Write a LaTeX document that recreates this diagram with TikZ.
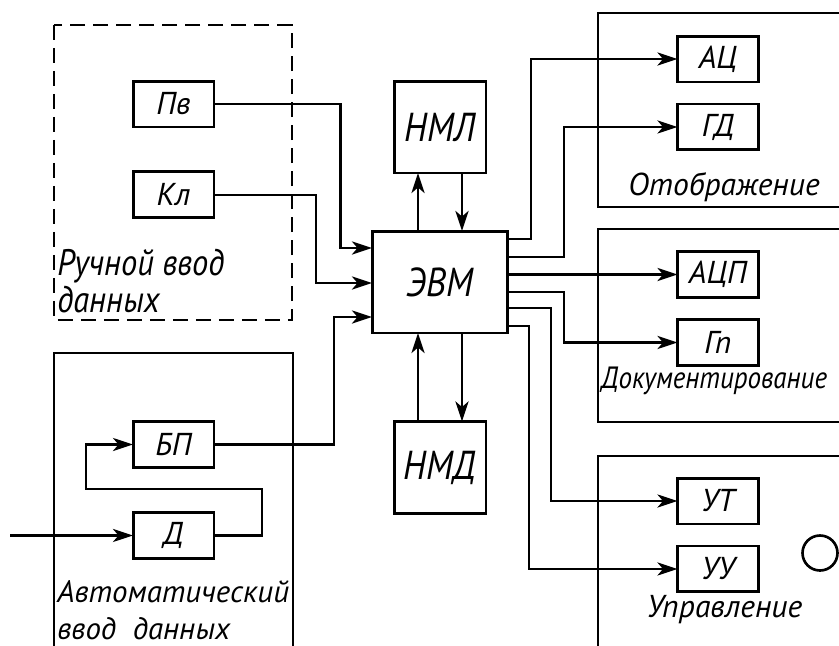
\documentclass[tikz,border=0pt]{standalone}
\usepackage{fontspec}
\setmainfont{PT Sans}
\newfontfamily\labelfont{PT Sans}
\newfontfamily\narrowfont{PT Sans}[FakeStretch=0.88]
\usetikzlibrary{arrows.meta, positioning, calc}

\begin{document}
\begin{tikzpicture}[
		x=0.02cm, y=-0.02cm,
		every node/.style={font=\labelfont\itshape\fontsize{18}{21}\selectfont},
		unit/.style={draw, line width=1.7pt, minimum width=1.62cm, minimum height=0.92cm, inner sep=0pt, outer sep=0pt},
		bigunit/.style={unit, minimum width=1.84cm, minimum height=1.84cm, font=\narrowfont\itshape\fontsize{23}{26}\selectfont},
		group/.style={line width=1.5pt},
		caption/.style={inner sep=0pt, align=left},
		arrowstyle/.style={-{Stealth[length=4mm, width=2.6mm, inset=1.1mm]}, line width=1.6pt}
	]
	\useasboundingbox (0,0) rectangle (839,646);
	\clip (0,0) rectangle (839,646);

	% groups
	\draw[group, dash pattern=on 0.3cm off 0.16cm] (54,25) rectangle (292,320);
	\draw[group] (54,353) rectangle (293,670);
	\draw[group] (598,13) rectangle (860,207);
	\draw[group] (598,229) rectangle (860,422);
	\draw[group] (598,456) rectangle (860,670);

	% input units
	\node[unit] (pv) at (173.5,104) {Пв};
	\node[unit, below=0.9cm of pv] (kl) {Кл};
	\node[unit] (bp) at (173.5,444.5) {БП};
	\node[unit, below=0.9cm of bp] (d) {Д};

	% computer and memory
	\node[bigunit, minimum width=2.72cm, minimum height=2.04cm] (evm) at (440,282) {ЭВМ};
	\node[bigunit] (nml) at (440,127) {НМЛ};
	\node[bigunit] (nmd) at (440,467.5) {НМД};

	% output units
	\node[unit] (ac) at (718,59) {АЦ};
	\node[unit, below=0.44cm of ac] (gd) {ГД};
	\node[unit] (acp) at (718,274.5) {АЦП};
	\node[unit, below=0.44cm of acp] (gp) {Гп};
	\node[unit] (ut) at (718,501) {УТ};
	\node[unit, below=0.44cm of ut] (uu) {УУ};
	\node[circle, draw, line width=1.5pt, minimum size=0.7cm, inner sep=0pt] (lamp) at (820,553) {};

	% captions
	\node[caption, anchor=north west, font=\narrowfont\itshape\fontsize{21}{21}\selectfont] (manual) at (57,249) {Ручной ввод\\данных};
	\node[caption, anchor=north west, font=\labelfont\itshape\fontsize{17.6}{21}\selectfont] (auto) at (57,580) {Автоматический\\ввод\ \ данных};
	\node[caption, anchor=base] (show) at (724,195) {Отображение};
	\node[caption, anchor=base west, font=\narrowfont\itshape\fontsize{17.5}{21}\selectfont] (docs) at (601,388) {Документирование};
	\node[caption, anchor=base] (ctrl) at (724.5,617) {Управление};

	% connectors
	\coordinate[left=2.46cm of d.west] (sensor);
	\coordinate (loop) at (86,489);
	\draw[arrowstyle] (sensor) -- (d);
	\draw[arrowstyle] (d.east) -- ++(48,0) |- (loop) |- (bp);
	\draw[arrowstyle] (pv.east) -- ++(126.5,0) |- ($(evm.west)+(0,-34)$);
	\draw[arrowstyle] (kl.east) -- ++(102,0) |- ($(evm.west)+(0,1)$);
	\draw[arrowstyle] (bp.east) -- ++(120,0) |- ($(evm.west)+(0,35)$);
	\draw[arrowstyle] ([xshift=-0.44cm]evm.north) -- ([xshift=-0.44cm]nml.south);
	\draw[arrowstyle] ([xshift=0.44cm]nml.south) -- ([xshift=0.44cm]evm.north);
	\draw[arrowstyle] ([xshift=-0.44cm]nmd.north) -- ([xshift=-0.44cm]evm.south);
	\draw[arrowstyle] ([xshift=0.44cm]evm.south) -- ([xshift=0.44cm]nmd.north);
	\draw[arrowstyle] ($(evm.east)+(0,-43)$) -- ++(23,0) |- (ac);
	\draw[arrowstyle] ($(evm.east)+(0,-25)$) -- ++(56,0) |- (gd);
	\draw[arrowstyle] (evm.east |- acp) -- (acp);
	\draw[arrowstyle] ($(evm.east)+(0,10)$) -- ++(56,0) |- (gp);
	\draw[arrowstyle] ($(evm.east)+(0,26)$) -- ++(43,0) |- (ut);
	\draw[arrowstyle] ($(evm.east)+(0,44)$) -- ++(21,0) |- (uu);
\end{tikzpicture}
\end{document}
